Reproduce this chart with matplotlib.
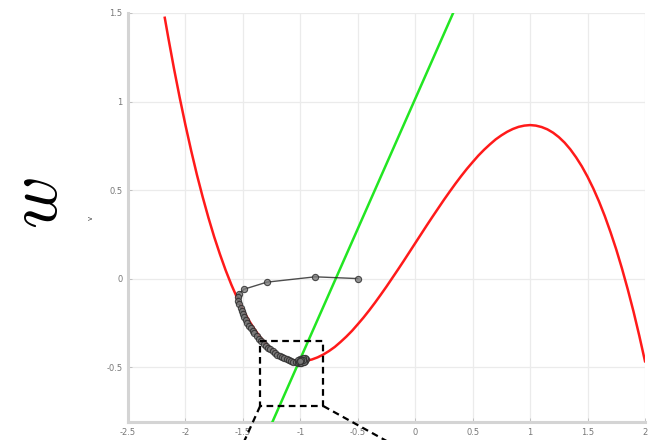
import numpy as np
import matplotlib
matplotlib.use("Agg")
import matplotlib.pyplot as plt
from matplotlib.lines import Line2D

plt.rcParams["mathtext.fontset"] = "cm"

# v-nullcline (red), sampled along v
v_null_v = [-2.18, -2.15, -2.10, -2.05, -2.00, -1.95, -1.90, -1.85, -1.80, -1.75,
            -1.70, -1.65, -1.60, -1.55, -1.50, -1.45, -1.40, -1.35, -1.30, -1.25,
            -1.20, -1.15, -1.10, -1.05, -1.00, -0.95, -0.90, -0.85, -0.80, -0.75,
            -0.70, -0.65, -0.60, -0.55, -0.50, -0.45, -0.40, -0.35, -0.30, -0.25,
            -0.20, -0.15, -0.10, -0.05, 0.00, 0.05, 0.10, 0.15, 0.20, 0.25,
            0.30, 0.35, 0.40, 0.45, 0.50, 0.55, 0.60, 0.65, 0.70, 0.75,
            0.80, 0.85, 0.90, 0.95, 1.00, 1.05, 1.10, 1.15, 1.20, 1.25,
            1.30, 1.35, 1.40, 1.45, 1.50, 1.55, 1.60, 1.65, 1.70, 1.75,
            1.80, 1.85, 1.90, 1.95, 2.00]
v_null_w = [1.473, 1.363, 1.187, 1.022, 0.867, 0.722, 0.586, 0.461, 0.344, 0.236,
            0.138, 0.047, -0.035, -0.109, -0.175, -0.234, -0.285, -0.330, -0.368, -0.399,
            -0.424, -0.443, -0.456, -0.464, -0.467, -0.464, -0.457, -0.445, -0.429, -0.409,
            -0.386, -0.358, -0.328, -0.295, -0.258, -0.220, -0.179, -0.136, -0.091, -0.045,
            0.003, 0.051, 0.100, 0.150, 0.200, 0.250, 0.300, 0.349, 0.397, 0.445,
            0.491, 0.536, 0.579, 0.620, 0.658, 0.695, 0.728, 0.758, 0.786, 0.809,
            0.829, 0.845, 0.857, 0.864, 0.867, 0.864, 0.856, 0.843, 0.824, 0.799,
            0.768, 0.730, 0.685, 0.634, 0.575, 0.509, 0.435, 0.353, 0.262, 0.164,
            0.056, -0.061, -0.186, -0.322, -0.467]

# w-nullcline (green)
w_null_v = [-1.25, 0.33]
w_null_w = [-0.82, 1.50]

# simulated trajectory
traj_v = [-0.50, -0.87, -1.29, -1.49, -1.535, -1.545, -1.54, -1.53, -1.52, -1.51,
          -1.50, -1.49, -1.475, -1.46, -1.445, -1.43, -1.415, -1.40, -1.38, -1.36,
          -1.34, -1.32, -1.30, -1.28, -1.26, -1.24, -1.22, -1.20, -1.18, -1.16,
          -1.14, -1.12, -1.10, -1.08, -1.06, -1.04, -1.02, -1.00, -0.98, -0.96,
          -0.95, -0.96, -0.98, -1.00, -1.02, -1.01, -0.99, -0.97, -0.975, -0.99, -1.00]
traj_w = [0.00, 0.01, -0.02, -0.06, -0.085, -0.105, -0.125, -0.145, -0.165, -0.185,
          -0.20, -0.215, -0.235, -0.25, -0.265, -0.28, -0.295, -0.31, -0.325, -0.34,
          -0.355, -0.37, -0.38, -0.39, -0.40, -0.41, -0.42, -0.43, -0.44, -0.445,
          -0.45, -0.455, -0.46, -0.465, -0.47, -0.472, -0.475, -0.475, -0.472, -0.465,
          -0.455, -0.448, -0.45, -0.455, -0.462, -0.472, -0.476, -0.47, -0.462, -0.46, -0.465]

# zoom region and the lines leading to the inset below
zoom_v = [-1.35, -0.80]
zoom_w = [-0.72, -0.355]
link_end_v = [-1.50, -0.20]
link_end_w = [-0.935, -0.935]

x_ticks = [-2.5, -2, -1.5, -1, -0.5, 0, 0.5, 1, 1.5, 2]
x_labels = ["-2.5", "-2", "-1.5", "-1", "-0.5", "0", "0.5", "1", "1.5", "2"]
y_ticks = [-0.5, 0, 0.5, 1, 1.5]
y_labels = ["-0.5", "0", "0.5", "1", "1.5"]

fig = plt.figure(figsize=(6.5, 4.4), dpi=100)
ax = fig.add_axes([128 / 650, 1 - 422 / 440, 517 / 650, 409 / 440])
ax.set_xlim(-2.5, 2.0)
ax.set_ylim(-0.81, 1.5)

ax.grid(True, color="#ebebeb", linewidth=0.9)
ax.set_axisbelow(True)
for side in ("top", "right"):
    ax.spines[side].set_visible(False)
for side in ("left", "bottom"):
    ax.spines[side].set_color("#d4d4d4")
    ax.spines[side].set_linewidth(2.2)

ax.set_xticks(x_ticks)
ax.set_xticklabels(x_labels)
ax.set_yticks(y_ticks)
ax.set_yticklabels(y_labels)
ax.tick_params(direction="in", length=3, width=0.6, color="#bbbbbb",
               labelsize=6, labelcolor="#777777", pad=4)

ax.plot(v_null_v, v_null_w, color="#ff1a1a", linewidth=1.8, zorder=3)
ax.plot(w_null_v, w_null_w, color="#22e622", linewidth=1.8, zorder=3)
ax.plot(traj_v, traj_w, color="#222222", linewidth=1.0, marker="o", markersize=4.5,
        markerfacecolor="#7a7a7a", markeredgecolor="#2a2a2a", markeredgewidth=0.8,
        alpha=0.8, zorder=4)

# dashed zoom box
bx = [zoom_v[0], zoom_v[1], zoom_v[1], zoom_v[0], zoom_v[0]]
by = [zoom_w[1], zoom_w[1], zoom_w[0], zoom_w[0], zoom_w[1]]
ax.plot(bx, by, color="black", linewidth=1.6, dashes=(3, 2), zorder=5)
for x0, x1, y1 in zip(zoom_v, link_end_v, link_end_w):
    ax.add_line(Line2D([x0, x1], [zoom_w[0], y1], color="black", linewidth=1.6,
                       dashes=(3, 2), clip_on=False, zorder=5))

ax.set_ylabel("v", fontsize=5, color="#444444", labelpad=9)
fig.text(37 / 650, 1 - 203 / 440, "$w$", fontsize=52, rotation=90,
         ha="center", va="center")

fig.savefig("out.png", dpi=100)
